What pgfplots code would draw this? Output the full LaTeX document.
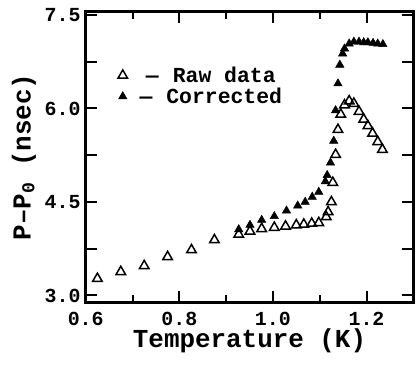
\documentclass[border=0pt]{standalone}
\usepackage{fontspec}
\setmainfont{Liberation Mono}
\usepackage{pgfplots}
\pgfplotsset{compat=1.18}
\begin{document}
\begin{tikzpicture}
\begin{axis}[
  name=ax,
  scale only axis,
  width=327.6bp, height=290.6bp,
  xmin=0.6, xmax=1.3, ymin=2.89, ymax=7.553,
  xtick={0.6,0.8,1.0,1.2}, xticklabels={0.6,0.8,1.0,1.2},
  minor xtick={0.7,0.9,1.1},
  ytick={3,3.75,4.5,5.25,6,6.75,7.5}, yticklabels={3.0,,4.5,,6.0,,7.5},
  tick align=inside, tick pos=both,
  major tick length=11.7bp, minor tick length=7bp,
  tick style={black, line width=2bp},
  axis line style={line width=2.5bp},
  tick label style={font=\fontsize{20}{20}\selectfont\bfseries},
  xticklabel style={anchor=base, inner sep=0pt, yshift=-22.7bp},
  yticklabel style={anchor=east, inner sep=0pt, xshift=-5bp},
  xlabel={Temperature (K)},
  ylabel={P--P\textsubscript{0} (nsec)},
  every axis x label/.style={at={(rel axis cs:0.5,0)}, anchor=base, inner sep=0pt, yshift=-45.5bp,
    font=\fontsize{26}{26}\selectfont\bfseries},
  every axis y label/.style={at={(rel axis cs:0,0.5)}, xshift=-61.7bp, rotate=90, anchor=center,
    inner sep=0pt, font=\fontsize{26}{26}\selectfont\bfseries},
  legend style={at={(rel axis cs:0.098,0.815)}, anchor=north west, draw=none, fill=none,
    inner sep=0pt, font=\fontsize{21.5}{21.5}\selectfont\bfseries,
    nodes={inner sep=0pt, text height=16.5bp, text depth=3bp},
    row sep=1.5bp, column sep=12bp},
  legend image code/.code={\draw[#1] plot coordinates {(0bp,0bp)};},
]
\addplot[only marks, mark=triangle, mark size=5.5bp, mark options={line width=1.5bp, solid, black}] table {
x y
0.625 3.27
0.675 3.38
0.725 3.475
0.775 3.62
0.826 3.73
0.875 3.89
0.927 3.98
0.951 4.03
0.976 4.07
1.003 4.09
1.027 4.11
1.050 4.13
1.066 4.14
1.083 4.155
1.098 4.165
1.114 4.26
1.118 4.34
1.125 4.50
1.128 4.81
1.134 5.26
1.139 5.66
1.145 5.905
1.153 6.055
1.163 6.12
1.173 6.08
1.184 5.95
1.194 5.825
1.203 5.72
1.213 5.60
1.224 5.465
1.234 5.34
};
\addlegendentry{---\hspace{14bp}Raw data}
\addplot[only marks, mark=triangle*, mark size=4.8bp, mark options={line width=0.5bp, solid, fill=black, draw=black}] table {
x y
0.927 4.06
0.951 4.13
0.976 4.21
1.003 4.27
1.029 4.36
1.053 4.44
1.069 4.50
1.084 4.58
1.098 4.66
1.112 4.83
1.116 4.93
1.123 5.13
1.130 5.48
1.134 5.97
1.139 6.40
1.143 6.70
1.149 6.88
1.153 6.96
1.163 7.04
1.173 7.07
1.184 7.07
1.194 7.06
1.203 7.06
1.214 7.05
1.224 7.04
1.235 7.03
};
\addlegendentry{---\hspace{14bp}Corrected}
\end{axis}
\pgfresetboundingbox
\path ([shift={(-85.7bp,-61.7bp)}]ax.south west) rectangle ([shift={(2.7bp,11.7bp)}]ax.north east);
\end{tikzpicture}
\end{document}
